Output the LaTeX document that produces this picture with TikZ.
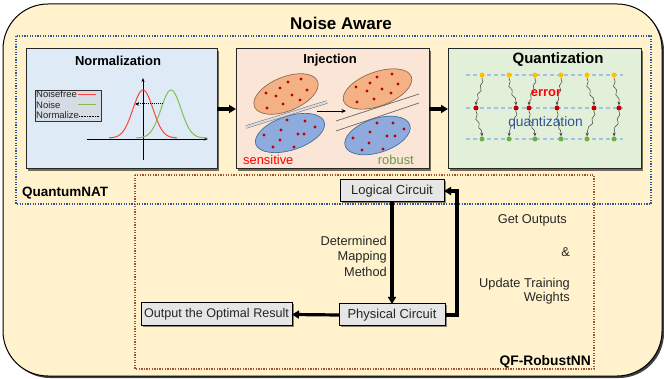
\documentclass[tikz,border=0pt]{standalone}
\usepackage{fontspec}
\setmainfont{Liberation Sans}
\usetikzlibrary{arrows.meta,decorations.pathmorphing,shadows}
\definecolor{outerfill}{HTML}{FFF2CC}
\definecolor{bluedot}{HTML}{2F5597}
\definecolor{browndot}{HTML}{A0522D}
\definecolor{normfill}{HTML}{DEEBF7}
\definecolor{injfill}{HTML}{FBE5D6}
\definecolor{quantfill}{HTML}{E2F0D9}
\definecolor{boxgray}{HTML}{E7E6E6}
\definecolor{orangeE}{HTML}{F4B183}
\definecolor{orangeB}{HTML}{8C6B55}
\definecolor{blueE}{HTML}{8FAADC}
\definecolor{blueB}{HTML}{41719C}
\definecolor{dotred}{HTML}{C00000}
\definecolor{dotyellow}{HTML}{FFC000}
\definecolor{dotgreen}{HTML}{70AD47}
\definecolor{linebl}{HTML}{9DC3E6}
\definecolor{legfill}{HTML}{D6DCE4}
\definecolor{curvered}{HTML}{FF4040}
\definecolor{curvegreen}{HTML}{7FBF4F}
\begin{document}
\begin{tikzpicture}[x=1pt,y=-1pt,
  panel/.style={draw=black!85, line width=1pt, inner sep=0pt, outer sep=0pt,
    drop shadow={shadow xshift=2pt, shadow yshift=-2pt, fill=black, opacity=0.55}},
  ptitle/.style={font=\bfseries\fontsize{13}{15}\selectfont, inner sep=0pt},
  cbox/.style={draw=black, line width=1pt, fill=boxgray, inner sep=0pt, outer sep=0pt,
    text=black!85, font=\fontsize{13}{15}\selectfont,
    drop shadow={shadow xshift=1.5pt, shadow yshift=-1.5pt, fill=black, opacity=0.45}},
  lbl/.style={inner sep=0pt, text=black!85, font=\fontsize{12.8}{15.5}\selectfont},
  flow/.style={line width=3.2pt, -{Triangle[length=7pt,width=8pt]}},
  bigarrow/.style={line width=3.2pt, -{Triangle[length=7pt,width=8pt]}},
  qdot/.style={circle, inner sep=0pt, minimum size=5pt},
  wavy/.style={black!75, line width=0.5pt, decorate,
    decoration={snake, amplitude=1.1pt, segment length=9pt, post length=3pt, pre length=1pt},
    -{Stealth[length=3.5pt,width=3pt]}},
  legtxt/.style={inner sep=0pt, anchor=west, text=black!85, font=\fontsize{9.5}{10}\selectfont}
]
\useasboundingbox (0,0) rectangle (664,379);
% outer box
\fill[black!75, rounded corners=45pt] (5,6) rectangle (664,378);
\draw[fill=outerfill, line width=1pt, rounded corners=45pt] (3,4) rectangle (662,376);
\node[font=\bfseries\fontsize{17}{20}\selectfont, inner sep=0pt] (title) at (341,23) {Noise Aware};

% dotted frames
\draw[browndot, line width=1.3pt, dash pattern=on 1.3pt off 1.3pt] (135,175) rectangle (594,369);
\draw[bluedot, line width=1.3pt, dash pattern=on 1.3pt off 1.3pt] (16,36) rectangle (651,204);
\node[anchor=west, inner sep=0pt, font=\bfseries\fontsize{13.5}{15}\selectfont] (qnat) at (22,193) {QuantumNAT};
\node[anchor=east, inner sep=0pt, font=\bfseries\fontsize{13.8}{15}\selectfont] (qfr) at (591,362) {QF-RobustNN};

% panels
\node[panel, fill=normfill, minimum width=191pt, minimum height=120pt] (norm) at (121.5,109) {};
\node[panel, fill=injfill, minimum width=193pt, minimum height=120pt] (inj) at (332.5,109) {};
\node[panel, fill=quantfill, minimum width=193pt, minimum height=120pt] (quant) at (544.5,109) {};
\draw[bigarrow] (norm) -- (inj);
\draw[bigarrow] (inj) -- (quant);
\node[ptitle] (normt) at (118,61) {Normalization};
\node[ptitle] (injt) at (330,60) {Injection};
\node[ptitle, font=\bfseries\fontsize{15}{17}\selectfont] (quantt) at (558,60) {Quantization};

% ---- Normalization contents
\node[draw=black!80, line width=0.8pt, fill=legfill, minimum width=66pt, minimum height=31pt, inner sep=0pt] (legend) at (68,105.5) {};
\node[legtxt] (l1) at (36,94.5) {Noisefree};
\node[legtxt] (l2) at (36,105) {Noise};
\node[legtxt] (l3) at (36,115.5) {Normalize};
\draw[curvered, line width=1pt] (78,95) -- (96,95);
\draw[curvegreen, line width=1pt] (78,105) -- (96,105);
\draw[black, line width=0.5pt, dash pattern=on 1pt off 0.6pt] (79,116) -- (99,116);
\draw[line width=0.7pt, -{Stealth[length=4pt,width=3pt]}] (87,139) -- (208,139);
\draw[line width=0.7pt, -{Stealth[length=4pt,width=3pt]}] (143,160) -- (143,78);
\draw[curvered, line width=1pt, domain=-34:34, samples=70, smooth] plot ({143+\x}, {138-48*exp(-(\x)*(\x)/200)});
\draw[curvegreen, line width=1pt, domain=-35:36, samples=70, smooth] plot ({171+\x}, {138-48*exp(-(\x)*(\x)/200)});
\draw[line width=1pt, dash pattern=on 1pt off 1pt, -{Stealth[length=4pt,width=3.5pt]}] (163,104) -- (135,104);

% ---- Injection contents
\draw[fill=orangeE, draw=orangeB, line width=0.7pt, rotate around={22:(286,94)}] (286,94) ellipse [x radius=34pt, y radius=17pt];
\draw[fill=blueE, draw=blueB, line width=0.7pt, rotate around={18:(290,133)}] (290,133) ellipse [x radius=36pt, y radius=17pt];
\draw[fill=orangeE, draw=orangeB, line width=0.7pt, rotate around={20:(377.5,89)}] (377.5,89) ellipse [x radius=36pt, y radius=17pt];
\draw[fill=blueE, draw=blueB, line width=0.7pt, rotate around={18:(377.5,135.5)}] (377.5,135.5) ellipse [x radius=34pt, y radius=17pt];
\foreach \p in {(301,79),(288,82),(266,93),(280,88),(276,96),(292,95),(307,90),(300,100),(283,104),(267,108),
  (287,120),(305,121),(315,127),(281,130),(298,134),(304,134),(264,135),(280,140),(294,147),(273,147),
  (392,74),(377,77),(370,83),(356,87),(398,84),(367,91),(382,89),(391,93),(374,99),(357,102),
  (377,123),(393,123),(404,129),(370,132),(387,136),(395,136),(353,138),(369,143),(383,149),(362,150)}
  \fill[dotred] \p circle (1.7pt);
\draw[draw=black!55, line width=0.5pt, double=black!15, double distance=2.2pt] (246,127) -- (327,102);
\draw[black!60, line width=0.7pt] (336,121) -- (419,94);
\draw[black!60, line width=0.7pt] (336,131) -- (419,103);
\draw[line width=0.9pt, -{Stealth[length=4.5pt,width=4pt]}] (317,111) -- (346,111);
\node[anchor=west, inner sep=0pt, text=red, font=\fontsize{12.9}{15}\selectfont] (sens) at (243,160) {sensitive};
\node[anchor=east, inner sep=0pt, text=dotgreen!90!black, font=\fontsize{12.9}{15}\selectfont] (rob) at (414,160) {robust};

% ---- Quantization contents
\foreach \yy in {75,108,139}
  \draw[linebl, line width=1.3pt, dash pattern=on 4pt off 3pt] (466,\yy) -- (623,\yy);
\foreach \i/\xt/\xm in {1/482/476, 2/509/516, 3/535/529, 4/561/557, 5/587/594, 6/614/619} {
  \node[qdot, fill=dotyellow] (y\i) at (\xt,75) {};
  \node[qdot, fill=dotred] (r\i) at (\xm,108) {};
  \node[qdot, fill=dotgreen] (g\i) at (\xt,139) {};
  \draw[wavy] (y\i) to[out=-90,in=90] (r\i);
  \draw[wavy] (r\i) to[out=-90,in=90] (g\i);
}
\node[inner sep=0pt, text=red, font=\bfseries\fontsize{12.9}{15}\selectfont] (err) at (546,93) {error};
\node[inner sep=0pt, text=bluedot, font=\fontsize{13.8}{15}\selectfont] (qz) at (545.5,123) {quantization};

% ---- bottom flow
\node[cbox, minimum width=104pt, minimum height=22pt] (logical) at (392,191) {Logical Circuit};
\node[cbox, minimum width=106pt, minimum height=22pt] (physical) at (392,315) {Physical Circuit};
\node[cbox, minimum width=151pt, minimum height=23pt, font=\fontsize{12.6}{15}\selectfont] (output) at (216.5,314.5) {Output the Optimal Result};
\draw[flow] (logical.south) -- (physical.north);
\draw[flow] (physical.east) -- ++(12,0) |- (logical.east);
\draw[flow] (physical.west) -- (output.east);
\node[lbl, align=right, anchor=east] (dmm) at (387,256) {Determined\\Mapping\\Method};
\node[lbl, anchor=east] (getout) at (567,220) {Get Outputs};
\node[lbl, anchor=east] (amp) at (570,252) {\&};
\node[lbl, align=right, anchor=east, font=\fontsize{12.8}{14.5}\selectfont] (upd) at (570,291) {Update Training\\Weights};
\end{tikzpicture}
\end{document}
